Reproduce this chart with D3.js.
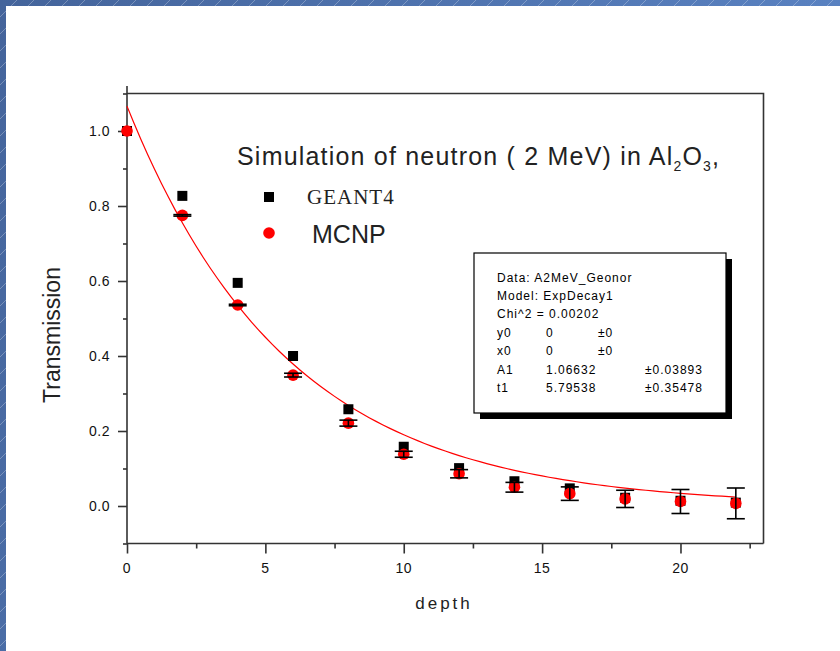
<!DOCTYPE html>
<html>
<head>
<meta charset="utf-8">
<script src="https://cdn.jsdelivr.net/npm/d3@7"></script>
<style>
  body { margin: 0; background: #fff; }
  svg { font-family: "Liberation Sans", Arial, sans-serif; }
</style>
</head>
<body>
<svg id="viewport" width="840" height="651"></svg>
<script>
// transmission vs depth
var depth = [0, 2, 4, 6, 8, 10, 12, 14, 16, 18, 20, 22];
var geant4 = [1.0, 0.827, 0.595, 0.400, 0.258, 0.158, 0.101, 0.066, 0.047, 0.022, 0.014, 0.009];
var mcnp = [1.0, 0.775, 0.536, 0.349, 0.221, 0.138, 0.086, 0.050, 0.033, 0.019, 0.012, 0.007];
var mcnpErr = [0, 0.002, 0.002, 0.005, 0.008, 0.008, 0.011, 0.013, 0.018, 0.023, 0.032, 0.041];

var xMajor = [0, 5, 10, 15, 20];
var yMajor = [0.0, 0.2, 0.4, 0.6, 0.8, 1.0];

// ExpDecay1 fit shown in the box: y = y0 + A1*exp(-(x-x0)/t1)
var fitY0 = 0, fitX0 = 0, fitA1 = 1.06632, fitT1 = 5.79538;
var statsLines = [
  ["Data: A2MeV_Geonor"],
  ["Model: ExpDecay1"],
  ["Chi^2 = 0.00202"],
  ["y0", "0", "\u00b10"],
  ["x0", "0", "\u00b10"],
  ["A1", "1.06632", "\u00b10.03893"],
  ["t1", "5.79538", "\u00b10.35478"]
];

var svg = d3.select("#viewport");

// slide background: blue band on top and left with faint diagonal hatching
var defs = svg.append("defs");
var grad = defs.append("linearGradient").attr("id", "band")
  .attr("x1", "0").attr("y1", "0").attr("x2", "1").attr("y2", "0.3");
grad.append("stop").attr("offset", "0").attr("stop-color", "#44649b");
grad.append("stop").attr("offset", "1").attr("stop-color", "#5b84c4");
var pat = defs.append("pattern").attr("id", "hatch")
  .attr("width", 17).attr("height", 17).attr("patternUnits", "userSpaceOnUse");
pat.append("line").attr("x1", 0).attr("y1", 17).attr("x2", 17).attr("y2", 0)
  .attr("stroke", "#fff").attr("stroke-opacity", 0.4).attr("stroke-width", 0.7);

svg.append("rect").attr("width", 840).attr("height", 651).attr("fill", "url(#band)");
svg.append("rect").attr("width", 840).attr("height", 651).attr("fill", "url(#hatch)");
svg.append("rect").attr("x", 6).attr("y", 6).attr("width", 834).attr("height", 645).attr("fill", "#fff");

var x = d3.scaleLinear().domain([0, 23]).range([127, 763.5]);
var y = d3.scaleLinear().domain([-0.1, 1.1]).range([543.5, 93.5]);

var axisColor = "#333";

// frame (top and right)
svg.append("path")
  .attr("d", "M" + x(0) + "," + y(1.1) + "H" + x(23) + "V" + y(-0.1))
  .attr("fill", "none").attr("stroke", axisColor).attr("stroke-width", 1.6);

// x axis
var xAxis = svg.append("g").attr("transform", "translate(0," + y(-0.1) + ")");
xAxis.call(d3.axisBottom(x).tickValues(d3.range(0, 23, 2.5)).tickSize(5).tickFormat(""));
xAxis.call(function(g) {
  g.selectAll(".tick")
    .filter(function(d) { return xMajor.indexOf(d) >= 0; })
    .select("line").attr("y2", 10);
  g.select(".domain").attr("d", "M" + x(0) + ",0H" + x(23));
});
xAxis.selectAll("line, path").attr("stroke", axisColor).attr("stroke-width", 1.6);
xAxis.selectAll(".xlab").data(xMajor).enter().append("text")
  .attr("x", function(d) { return x(d); })
  .attr("y", 29)
  .attr("text-anchor", "middle")
  .attr("font-size", 14)
  .attr("letter-spacing", 0.5)
  .attr("fill", "#111")
  .text(function(d) { return d; });

// y axis
var yAxis = svg.append("g").attr("transform", "translate(" + x(0) + ",0)");
yAxis.call(d3.axisLeft(y).tickValues(d3.range(-0.1, 1.15, 0.1)).tickSize(4).tickFormat(""));
yAxis.call(function(g) {
  g.selectAll(".tick")
    .filter(function(d) { return yMajor.some(function(m) { return Math.abs(m - d) < 1e-6; }); })
    .select("line").attr("x2", -9);
  g.select(".domain").attr("d", "M0,86V" + y(-0.1));
});
yAxis.selectAll("line, path").attr("stroke", axisColor).attr("stroke-width", 1.6);
yAxis.selectAll(".ylab").data(yMajor).enter().append("text")
  .attr("x", -17)
  .attr("y", function(d) { return y(d) + 5; })
  .attr("text-anchor", "end")
  .attr("font-size", 14)
  .attr("letter-spacing", 0.5)
  .attr("fill", "#111")
  .text(function(d) { return d.toFixed(1); });

// axis titles
svg.append("text")
  .attr("transform", "translate(60,335) rotate(-90)")
  .attr("text-anchor", "middle")
  .attr("font-size", 23)
  .attr("fill", "#222")
  .text("Transmission");
svg.append("text")
  .attr("x", 444).attr("y", 609)
  .attr("text-anchor", "middle")
  .attr("font-size", 17)
  .attr("letter-spacing", 3)
  .attr("fill", "#222")
  .text("depth");

// fit curve
var fitX = d3.range(0, 22.01, 0.25);
var line = d3.line()
  .x(function(d) { return x(d); })
  .y(function(d) { return y(fitY0 + fitA1 * Math.exp(-(d - fitX0) / fitT1)); });
svg.append("path").datum(fitX)
  .attr("d", line)
  .attr("fill", "none")
  .attr("stroke", "#ff0000")
  .attr("stroke-width", 1.2);

// GEANT4 squares
svg.selectAll(".sq").data(depth).enter().append("rect")
  .attr("class", "sq")
  .attr("x", function(d) { return x(d) - 5; })
  .attr("y", function(d, i) { return y(geant4[i]) - 5; })
  .attr("width", 10).attr("height", 10)
  .attr("fill", "#000");

// MCNP circles
svg.selectAll(".dot").data(depth).enter().append("circle")
  .attr("class", "dot")
  .attr("cx", function(d) { return x(d); })
  .attr("cy", function(d, i) { return y(mcnp[i]); })
  .attr("r", 5.8)
  .attr("fill", "#ff0000");

// error bars on MCNP
var eb = svg.selectAll(".eb").data(depth).enter().append("g")
  .attr("class", "eb")
  .attr("stroke", "#000").attr("stroke-width", 1.6);
eb.append("line")
  .attr("x1", function(d) { return x(d); }).attr("x2", function(d) { return x(d); })
  .attr("y1", function(d, i) { return y(mcnp[i] + mcnpErr[i]); })
  .attr("y2", function(d, i) { return y(mcnp[i] - mcnpErr[i]); });
eb.filter(function(d, i) { return i > 0; }).selectAll(".cap")
  .data(function(d) {
    var k = depth.indexOf(d);
    return [mcnp[k] + mcnpErr[k], mcnp[k] - mcnpErr[k]].map(function(v) { return { d: d, v: v }; });
  })
  .enter().append("line")
  .attr("x1", function(c) { return x(c.d) - 9; }).attr("x2", function(c) { return x(c.d) + 9; })
  .attr("y1", function(c) { return y(c.v); }).attr("y2", function(c) { return y(c.v); });

// title
var title = svg.append("text")
  .attr("x", 237).attr("y", 165)
  .attr("font-size", 25)
  .attr("letter-spacing", 1.2)
  .attr("fill", "#222");
title.append("tspan").text("Simulation of neutron ( 2 MeV) in Al");
title.append("tspan").attr("dy", 6).attr("font-size", 14).text("2");
title.append("tspan").attr("dy", -6).text("O");
title.append("tspan").attr("dy", 6).attr("font-size", 14).text("3");
title.append("tspan").attr("dy", -6).text(",");

// legend
svg.append("rect").attr("x", 264).attr("y", 192).attr("width", 10).attr("height", 10).attr("fill", "#000");
svg.append("text").attr("x", 307).attr("y", 204)
  .style("font-family", "'Liberation Serif', 'Times New Roman', serif")
  .attr("font-size", 21).attr("letter-spacing", 1).attr("fill", "#222").text("GEANT4");
svg.append("circle").attr("cx", 269).attr("cy", 233).attr("r", 5.8).attr("fill", "#ff0000");
svg.append("text").attr("x", 312).attr("y", 243)
  .attr("font-size", 25).attr("fill", "#222").text("MCNP");

// stats box with drop shadow
svg.append("rect").attr("x", 480).attr("y", 259).attr("width", 252).attr("height", 160).attr("fill", "#000");
svg.append("rect").attr("x", 474).attr("y", 253).attr("width", 252).attr("height", 160)
  .attr("fill", "#fff").attr("stroke", "#000").attr("stroke-width", 1.2);
var colX = [497, 546, 598];
svg.selectAll(".stat").data(statsLines).enter().append("text")
  .attr("class", "stat")
  .attr("y", function(d, i) { return 281.5 + i * 18.4; })
  .attr("font-size", 12)
  .attr("letter-spacing", 1)
  .attr("fill", "#000")
  .each(function(row) {
    var t = d3.select(this);
    row.forEach(function(s, j) {
      var cx = colX[j];
      if (j == 2 && s.length > 3) cx = 645;
      t.append("tspan").attr("x", cx).text(s);
    });
  });
</script>
</body>
</html>
